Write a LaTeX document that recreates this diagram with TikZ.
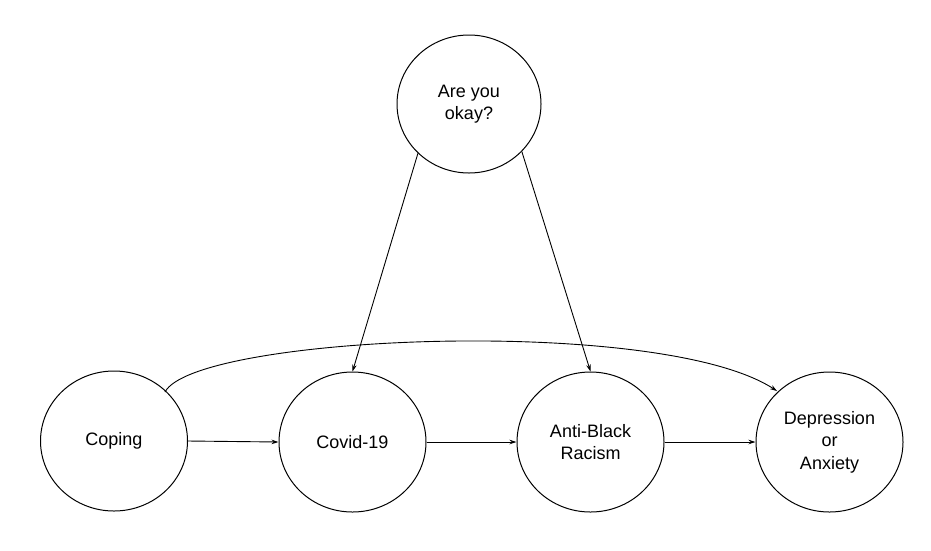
\documentclass[tikz,border=0pt]{standalone}
\usepackage{fontspec}
\setmainfont{Liberation Sans}
\usetikzlibrary{shapes.geometric,arrows.meta}
\begin{document}
\begin{tikzpicture}[x=1pt,y=-1pt,
  bubble/.style={draw,ellipse,line width=1pt,minimum width=147pt,minimum height=140pt,inner sep=0pt,align=center,font=\fontsize{18}{22.5}\selectfont},
  arr/.style={line width=0.9pt,-{Stealth[length=7pt,width=4.5pt]}}]
\useasboundingbox (0,0) rectangle (931,550);
\node[bubble,minimum width=144pt,minimum height=138pt] (okay) at (469,104) {Are you\\okay?};
\node[bubble] (cope) at (114,441) {Coping};
\node[bubble] (covid) at (352.5,442) {Covid-19};
\node[bubble] (abr) at (590.5,442) {Anti-Black\\Racism};
\node[bubble] (dep) at (829.5,442) {Depression\\or\\Anxiety};
\draw[arr] (cope.east) -- (covid.west);
\draw[arr] (covid.east) -- (abr.west);
\draw[arr] (abr.east) -- (dep.west);
\draw[arr] (okay.-136) -- (covid.north);
\draw[arr] (okay.-42) -- (abr.north);
\coordinate (cs) at (165,392);
\coordinate (ce) at (777,391);
\draw[arr] (cs) .. controls (195,335) and (660,315) .. (ce);
\end{tikzpicture}
\end{document}
